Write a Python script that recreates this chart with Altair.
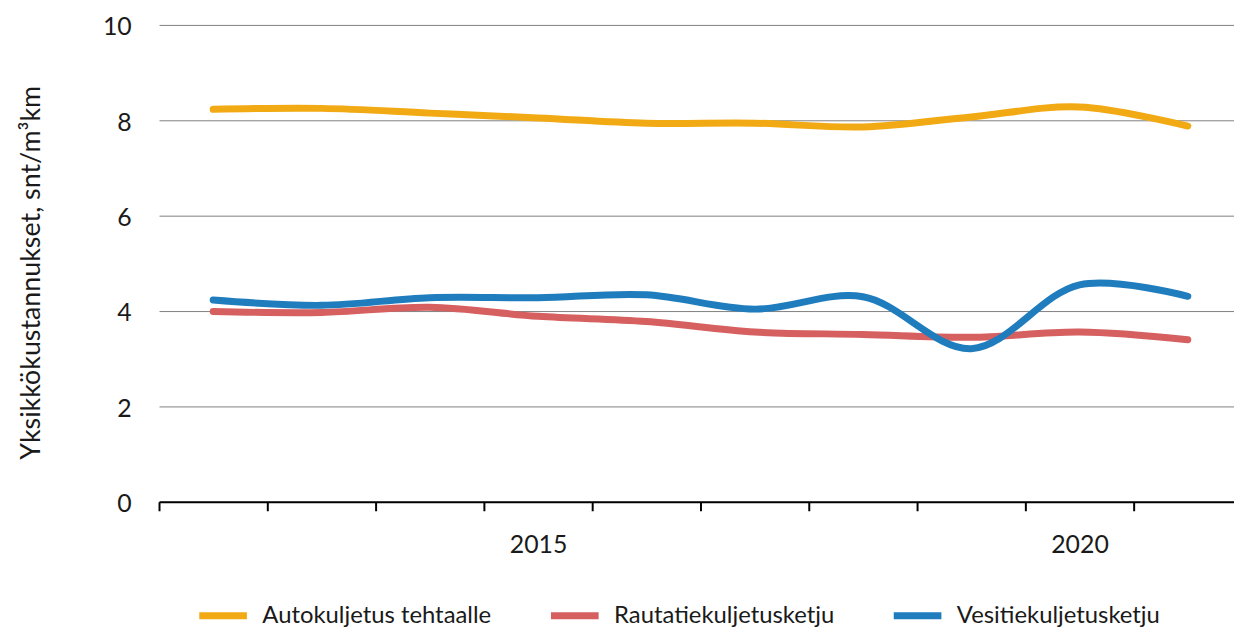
import altair as alt
import pandas as pd

years = [2012, 2013, 2014, 2015, 2016, 2017, 2018, 2019, 2020, 2021]
auto = [8.23, 8.25, 8.15, 8.05, 7.94, 7.94, 7.86, 8.07, 8.28, 7.88]
rail = [3.99, 3.97, 4.08, 3.89, 3.78, 3.56, 3.51, 3.45, 3.56, 3.40]
water = [4.23, 4.12, 4.28, 4.28, 4.34, 4.04, 4.30, 3.21, 4.55, 4.31]

series_names = ["Autokuljetus tehtaalle", "Rautatiekuljetusketju", "Vesitiekuljetusketju"]
series_colors = ["#F2AA14", "#D65F5F", "#1F7DBE"]
y_ticks = [0, 2, 4, 6, 8, 10]
x_labels = [2015, 2020]

rows = []
for name, vals in zip(series_names, [auto, rail, water]):
    for yr, v in zip(years, vals):
        rows.append({"year": yr, "value": v, "series": name})
df = pd.DataFrame(rows)

FONT = "Lato"
label_test = " || ".join(f"datum.value == {v}" for v in x_labels)

chart = alt.Chart(df).mark_line(
    interpolate="catmull-rom", strokeWidth=7, strokeCap="round"
).encode(
    x=alt.X(
        "year:O",
        bandPosition=0.5,
        scale=alt.Scale(type="band", paddingInner=0, paddingOuter=0),
        axis=alt.Axis(
            title=None,
            tickBand="extent",
            labelAngle=0,
            labelExpr=f"({label_test}) ? datum.label : ''",
            domainColor="#000000",
            domainWidth=2,
            tickColor="#000000",
            tickWidth=2,
            tickSize=9,
            labelPadding=22,
            labelFont=FONT,
            labelFontSize=25,
            labelColor="#1a1a1a",
            grid=False,
        ),
    ),
    y=alt.Y(
        "value:Q",
        scale=alt.Scale(domain=[0, 10], nice=False),
        axis=alt.Axis(
            title="Yksikkökustannukset, snt/m³km",
            values=y_ticks,
            domain=False,
            ticks=False,
            tickSize=0,
            labelPadding=28,
            labelBaseline="alphabetic",
            labelOffset=10,
            labelFont=FONT,
            labelFontSize=25,
            labelColor="#1a1a1a",
            grid=True,
            gridColor="#808080",
            gridWidth=1,
            titleFont=FONT,
            titleFontSize=27,
            titleFontWeight="normal",
            titleColor="#1a1a1a",
            titleX=-120,
            titleY=249,
            titleBaseline="alphabetic",
        ),
    ),
    color=alt.Color(
        "series:N",
        scale=alt.Scale(domain=series_names, range=series_colors),
        legend=alt.Legend(
            title=None,
            orient="none",
            direction="horizontal",
            legendX=37,
            legendY=567,
            symbolType="stroke",
            symbolSize=2300,
            symbolStrokeWidth=7,
            labelFont=FONT,
            labelFontSize=24,
            labelColor="#1a1a1a",
            labelOffset=12,
            columnPadding=45,
            labelLimit=400,
            padding=0,
        ),
    ),
).properties(
    width=1090,
    height=480,
    autosize=alt.AutoSizeParams(type="none"),
    padding={"left": 152, "top": 15, "right": -8, "bottom": 127},
).configure_view(stroke=None)

chart.save("out.html", embed_options={"renderer": "svg", "actions": False})
